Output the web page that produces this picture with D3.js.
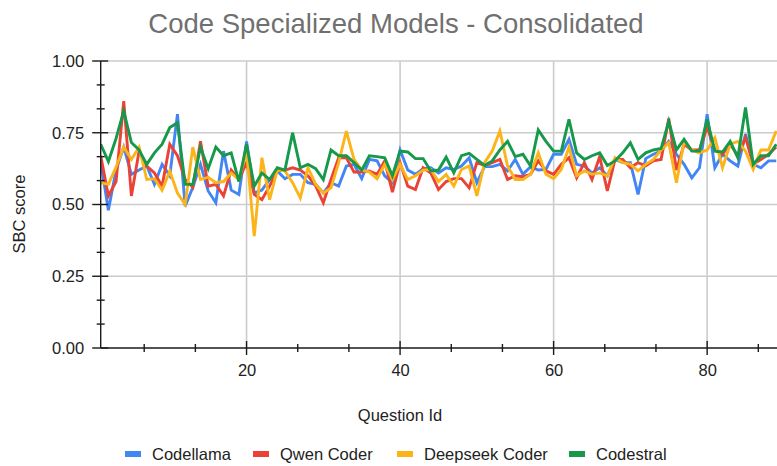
<!DOCTYPE html>
<html>
<head>
<meta charset="utf-8">
<script src="https://cdn.jsdelivr.net/npm/d3@7"></script>
<style>
  html, body { margin: 0; padding: 0; background: #fff; }
  svg { display: block; font-family: "Liberation Sans", Arial, sans-serif; }
</style>
</head>
<body>
<svg id="chart" width="777" height="466"></svg>
<script>
// ---------------- data ----------------
const seriesNames = ["Codellama", "Qwen Coder", "Deepseek Coder", "Codestral"];
const seriesColors = ["#4285F4", "#EA4335", "#FBB41A", "#16994A"];

const codellama = [0.65,0.48,0.62,0.70,0.605,0.62,0.634,0.57,0.64,0.60,
  0.815,0.494,0.56,0.64,0.547,0.506,0.686,0.55,0.535,0.72,
  0.54,0.55,0.587,0.617,0.59,0.605,0.605,0.576,0.57,0.54,
  0.576,0.564,0.634,0.64,0.59,0.657,0.652,0.60,0.576,0.69,
  0.62,0.605,0.625,0.628,0.61,0.628,0.622,0.634,0.663,0.576,
  0.632,0.632,0.64,0.617,0.657,0.605,0.632,0.62,0.622,0.675,
  0.675,0.727,0.64,0.634,0.61,0.628,0.60,0.657,0.646,0.646,
  0.535,0.66,0.675,0.686,0.72,0.675,0.64,0.593,0.628,0.815,
  0.628,0.675,0.652,0.634,0.745,0.64,0.628,0.652,0.652];

const qwenCoder = [0.67,0.53,0.58,0.86,0.53,0.686,0.634,0.61,0.564,0.71,
  0.67,0.587,0.56,0.72,0.564,0.57,0.53,0.62,0.587,0.646,
  0.535,0.517,0.564,0.617,0.62,0.628,0.62,0.60,0.565,0.506,
  0.587,0.663,0.663,0.613,0.613,0.617,0.605,0.652,0.543,0.646,
  0.564,0.552,0.628,0.61,0.552,0.58,0.59,0.59,0.558,0.646,
  0.636,0.646,0.657,0.587,0.60,0.597,0.605,0.652,0.617,0.605,
  0.64,0.663,0.593,0.646,0.587,0.667,0.547,0.657,0.657,0.628,
  0.646,0.635,0.652,0.657,0.80,0.62,0.71,0.69,0.69,0.77,
  0.69,0.675,0.71,0.67,0.733,0.64,0.657,0.675,0.70];

const deepseekCoder = [0.576,0.57,0.63,0.70,0.657,0.70,0.587,0.59,0.55,0.616,
  0.54,0.50,0.70,0.587,0.595,0.576,0.58,0.61,0.587,0.686,
  0.39,0.663,0.517,0.62,0.617,0.576,0.523,0.628,0.57,0.54,
  0.558,0.646,0.756,0.657,0.62,0.613,0.59,0.64,0.587,0.64,
  0.587,0.60,0.62,0.622,0.58,0.605,0.564,0.622,0.634,0.53,
  0.646,0.686,0.756,0.634,0.587,0.587,0.605,0.68,0.605,0.59,
  0.622,0.70,0.60,0.617,0.605,0.61,0.60,0.663,0.646,0.64,
  0.617,0.64,0.657,0.69,0.715,0.576,0.72,0.69,0.68,0.69,
  0.733,0.628,0.71,0.72,0.686,0.622,0.69,0.69,0.756];

const codestral = [0.71,0.65,0.73,0.826,0.716,0.69,0.64,0.68,0.71,0.768,
  0.785,0.57,0.57,0.70,0.625,0.70,0.67,0.68,0.58,0.71,
  0.564,0.61,0.587,0.628,0.62,0.75,0.628,0.64,0.625,0.587,
  0.69,0.67,0.67,0.646,0.62,0.67,0.667,0.663,0.60,0.686,
  0.683,0.66,0.66,0.617,0.62,0.665,0.61,0.67,0.678,0.657,
  0.636,0.652,0.69,0.72,0.667,0.675,0.634,0.76,0.72,0.686,
  0.686,0.797,0.68,0.657,0.67,0.68,0.636,0.652,0.68,0.715,
  0.657,0.68,0.69,0.695,0.79,0.69,0.727,0.686,0.686,0.797,
  0.686,0.683,0.72,0.663,0.838,0.64,0.67,0.67,0.71];

const allSeries = [codellama, qwenCoder, deepseekCoder, codestral];
const xTickValues = [20, 40, 60, 80];
const yTickValues = [0, 0.25, 0.5, 0.75, 1];
const xDomain = [1, 89.1];
const titleText = "Code Specialized Models - Consolidated";
const xTitle = "Question Id";
const yTitle = "SBC score";

(function () {
// ---------------- layout ----------------
const svg = d3.select("#chart");
const pL = 100.7, pR = 777, pT = 61, pB = 348;
const fs = 16.5;

const x = d3.scaleLinear().domain(xDomain).range([pL, pR]);
const y = d3.scaleLinear().domain([0, 1]).range([pB, pT]);

svg.append("defs").append("clipPath").attr("id", "plotClip")
  .append("rect").attr("x", pL).attr("y", 0).attr("width", pR - pL).attr("height", 466);

// gridlines
const grid = svg.append("g");
grid.selectAll("line.gy").data(yTickValues.filter(d => d > 0)).join("line")
  .attr("x1", pL).attr("x2", pR)
  .attr("y1", d => y(d)).attr("y2", d => y(d))
  .attr("stroke", "#cccccc").attr("stroke-width", 1.6);
grid.selectAll("line.gx").data(xTickValues).join("line")
  .attr("x1", d => x(d)).attr("x2", d => x(d))
  .attr("y1", pT).attr("y2", pB)
  .attr("stroke", "#cccccc").attr("stroke-width", 1.6);

// lines
const lineGen = d3.line().x((d, i) => x(i + 1)).y(d => y(d));
const plot = svg.append("g").attr("clip-path", "url(#plotClip)");
allSeries.forEach((vals, k) => {
  plot.append("path").datum(vals)
    .attr("fill", "none")
    .attr("stroke", seriesColors[k])
    .attr("stroke-width", 2.9)
    .attr("stroke-linejoin", "miter")
    .attr("d", lineGen);
});

// axes
const minorY = d3.range(0, 1.0001, 1 / 12).filter(v => Math.abs(v * 4 - Math.round(v * 4)) > 1e-6);
const minorX = d3.range(20 / 3, 89, 20 / 3).filter(v => Math.abs(v / 20 - Math.round(v / 20)) > 1e-6);

const yAxisG = svg.append("g").attr("transform", `translate(${pL},0)`);
yAxisG.call(d3.axisLeft(y).tickValues(yTickValues).tickFormat(d3.format(".2f")).tickSize(0).tickPadding(16.5));
yAxisG.select(".domain").remove();
yAxisG.selectAll("text").attr("font-size", fs).attr("fill", "#222").attr("font-family", "Liberation Sans, Arial, sans-serif");

const xAxisG = svg.append("g").attr("transform", `translate(0,${pB})`);
xAxisG.call(d3.axisBottom(x).tickValues(xTickValues).tickFormat(d3.format("d")).tickSize(0).tickPadding(16));
xAxisG.select(".domain").remove();
xAxisG.selectAll("text").attr("font-size", fs).attr("fill", "#222").attr("font-family", "Liberation Sans, Arial, sans-serif");

const axisColor = "#1a1a1a";
svg.append("line").attr("x1", pL).attr("x2", pL).attr("y1", pT).attr("y2", pB)
  .attr("stroke", axisColor).attr("stroke-width", 1.4);
svg.append("line").attr("x1", pL).attr("x2", pR).attr("y1", pB).attr("y2", pB)
  .attr("stroke", axisColor).attr("stroke-width", 1.4);

svg.selectAll("line.ymaj").data(yTickValues).join("line")
  .attr("x1", pL - 8.5).attr("x2", pL + 7.5)
  .attr("y1", d => y(d)).attr("y2", d => y(d))
  .attr("stroke", axisColor).attr("stroke-width", 1.4);
svg.selectAll("line.ymin").data(minorY).join("line")
  .attr("x1", pL - 4).attr("x2", pL + 4)
  .attr("y1", d => y(d)).attr("y2", d => y(d))
  .attr("stroke", axisColor).attr("stroke-width", 1.4);
svg.selectAll("line.xmaj").data(xTickValues).join("line")
  .attr("x1", d => x(d)).attr("x2", d => x(d))
  .attr("y1", pB - 7).attr("y2", pB + 7)
  .attr("stroke", axisColor).attr("stroke-width", 1.4);
svg.selectAll("line.xmin").data(minorX).join("line")
  .attr("x1", d => x(d)).attr("x2", d => x(d))
  .attr("y1", pB - 4).attr("y2", pB + 4)
  .attr("stroke", axisColor).attr("stroke-width", 1.4);

// titles
svg.append("text").attr("x", 396).attr("y", 32.5).attr("text-anchor", "middle")
  .attr("font-size", 27.5).attr("fill", "#707070").text(titleText);
svg.append("text").attr("x", 400).attr("y", 421).attr("text-anchor", "middle")
  .attr("font-size", fs).attr("fill", "#222").text(xTitle);
svg.append("text").attr("transform", "translate(25,214) rotate(-90)").attr("text-anchor", "middle")
  .attr("font-size", fs).attr("fill", "#222").text(yTitle);

// legend
const legendX = [125, 253, 397, 569];
const leg = svg.append("g");
seriesNames.forEach((name, k) => {
  leg.append("rect").attr("x", legendX[k]).attr("y", 451).attr("width", 16).attr("height", 6)
    .attr("fill", seriesColors[k]);
  leg.append("text").attr("x", legendX[k] + 27).attr("y", 460)
    .attr("font-size", fs).attr("fill", "#222").text(name);
});
})();
</script>
</body>
</html>
